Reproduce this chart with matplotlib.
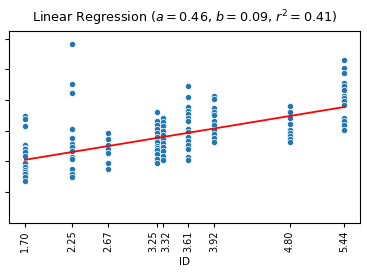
import numpy as np
import matplotlib
matplotlib.use('Agg')
import matplotlib.pyplot as plt
import matplotlib.transforms as mtransforms

# x positions (ID) and the y values for each ID
ids = [1.70, 2.25, 2.67, 3.25, 3.32, 3.61, 3.92, 4.80, 5.44]

y_170 = [2.48, 2.39, 2.16, 1.52, 1.45, 1.41, 1.31, 1.16, 0.96, 0.83, 0.71, 0.65, 0.59, 0.49, 0.36]
y_225 = [4.84, 3.53, 3.24, 2.05, 1.77, 1.56, 1.46, 1.34, 1.15, 1.08, 0.75, 0.59, 0.49]
y_267 = [1.91, 1.72, 1.54, 1.41, 1.27, 0.95, 0.75]
y_325 = [2.60, 2.32, 2.20, 2.06, 1.92, 1.79, 1.62, 1.51, 1.42, 1.36, 1.24, 1.09, 0.96]
y_332 = [2.40, 2.28, 2.15, 2.00, 1.86, 1.72, 1.61, 1.48, 1.35, 1.17, 1.04]
y_361 = [3.46, 3.09, 2.77, 2.65, 2.54, 2.41, 2.30, 2.05, 1.97, 1.81, 1.67, 1.53, 1.40, 1.15, 1.05]
y_392 = [3.12, 3.03, 2.75, 2.62, 2.51, 2.31, 2.17, 2.03, 1.89, 1.76, 1.64]
y_480 = [2.81, 2.60, 2.40, 2.23, 2.02, 1.93, 1.82, 1.72, 1.63]
y_544 = [4.29, 4.04, 3.88, 3.56, 3.47, 3.33, 3.14, 3.06, 2.98, 2.85, 2.40, 2.31, 2.18, 2.03]

groups = [y_170, y_225, y_267, y_325, y_332, y_361, y_392, y_480, y_544]

# fitted line (in plot units)
slope = 0.46
intercept = 0.27

tick_labels = ['%.2f' % v for v in ids]

fig = plt.figure(figsize=(3.67, 2.74), dpi=100)
ax = fig.add_axes([0.0245, 0.187, 0.957, 0.70])

for xv, ys in zip(ids, groups):
    ax.scatter([xv] * len(ys), ys, s=20, color='#1f77b4', edgecolors='white',
               linewidths=0.5, zorder=2)

xl = np.array([min(ids), max(ids)])
ax.plot(xl, slope * xl + intercept, color='red', linewidth=1.3, zorder=3)

ax.set_xticks(ids)
ax.set_xticklabels(tick_labels, rotation=90, fontsize=7)
ax.set_yticks(range(0, 6))
ax.set_yticklabels([])
ax.set_ylim(-1.0, 5.25)
ax.set_xlim(1.513, 5.627)
ax.tick_params(length=3, width=0.8, pad=2.5)
ax.set_xlabel('ID', fontsize=7.5, labelpad=3.5)
ax.set_title('Linear Regression ($a = 0.46$, $b = 0.09$, $r^2 = 0.41$)', fontsize=9.2, pad=6)

# push the two close labels apart so they don't overlap
labels = ax.get_xticklabels()
for lab, dx in [(labels[3], -4), (labels[4], 3.5)]:
    lab.set_transform(lab.get_transform() + mtransforms.ScaledTranslation(dx / 100, 0, fig.dpi_scale_trans))

fig.savefig('out.png', dpi=100)
